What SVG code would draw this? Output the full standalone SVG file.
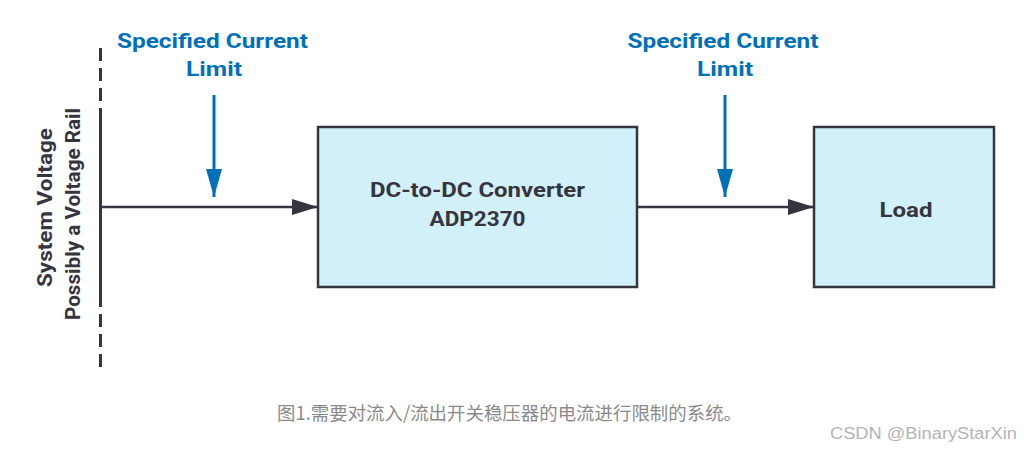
<svg xmlns="http://www.w3.org/2000/svg" width="1024" height="454" viewBox="0 0 1024 454">
<defs>
<style>
.box{fill:#d1f0fa;stroke:#36343f;stroke-width:2.5}
.lbl{font-family:Roboto,"Liberation Sans",sans-serif;font-weight:bold;font-size:20px;fill:#36343f;text-anchor:middle}
.blue{font-family:Roboto,"Liberation Sans",sans-serif;font-weight:bold;font-size:21px;fill:#0070b9;text-anchor:middle}
.wire{stroke:#36343f;stroke-width:2.5;fill:none}
.barrow{stroke:#0070b9;stroke-width:3;fill:none}
.dash{stroke:#36343f;stroke-width:3;stroke-dasharray:13,7}
</style>
<marker id="ah" viewBox="0 0 26 16" refX="26" refY="8" markerWidth="26" markerHeight="16" markerUnits="userSpaceOnUse" orient="auto">
<path d="M0,0 L26,8 L0,16 Z" fill="#36343f"/>
</marker>
<marker id="bh" viewBox="0 0 28 16" refX="28" refY="8" markerWidth="28" markerHeight="16" markerUnits="userSpaceOnUse" orient="auto">
<path d="M0,0 L28,8 L0,16 Z" fill="#0070b9"/>
</marker>
</defs>
<rect width="1024" height="454" fill="#ffffff"/>
<g id="rail">
<line class="dash" x1="100.5" y1="48" x2="100.5" y2="101"/>
<line x1="100.5" y1="108" x2="100.5" y2="307" stroke="#36343f" stroke-width="3"/>
<line class="dash" x1="100.5" y1="314" x2="100.5" y2="367"/>
<text class="lbl" transform="translate(52,207.5) rotate(-90)" textLength="159" lengthAdjust="spacingAndGlyphs">System Voltage</text>
<text class="lbl" transform="translate(80,214) rotate(-90)" textLength="212" lengthAdjust="spacingAndGlyphs">Possibly a Voltage Rail</text>
</g>
<g id="connectors">
<line class="wire" x1="100" y1="207" x2="318" y2="207" marker-end="url(#ah)"/>
<line class="wire" x1="637" y1="207" x2="814" y2="207" marker-end="url(#ah)"/>
<line class="barrow" x1="214" y1="95" x2="214" y2="197" marker-end="url(#bh)"/>
<line class="barrow" x1="725" y1="95" x2="725" y2="197" marker-end="url(#bh)"/>
</g>
<g id="limit1">
<text class="blue" x="212.5" y="48" textLength="191" lengthAdjust="spacingAndGlyphs">Specified Current</text>
<text class="blue" x="214" y="76" textLength="56" lengthAdjust="spacingAndGlyphs">Limit</text>
</g>
<g id="limit2">
<text class="blue" x="723" y="48" textLength="191" lengthAdjust="spacingAndGlyphs">Specified Current</text>
<text class="blue" x="725" y="76" textLength="56" lengthAdjust="spacingAndGlyphs">Limit</text>
</g>
<g id="converter">
<rect class="box" x="318" y="127" width="319" height="160"/>
<text class="lbl" x="477.5" y="197" textLength="215" lengthAdjust="spacingAndGlyphs">DC-to-DC Converter</text>
<text class="lbl" x="477.5" y="226" textLength="96" lengthAdjust="spacingAndGlyphs">ADP2370</text>
</g>
<g id="load">
<rect class="box" x="814" y="127" width="180" height="160"/>
<text class="lbl" x="906" y="217" textLength="53" lengthAdjust="spacingAndGlyphs">Load</text>
</g>
<text x="277" y="420" font-family="'Noto Sans CJK SC',sans-serif" font-size="18.5" fill="#8a8a8a" textLength="465" lengthAdjust="spacingAndGlyphs">图1.需要对流入/流出开关稳压器的电流进行限制的系统。</text>
<text x="830" y="439" font-family="'Liberation Sans',sans-serif" font-size="16" fill="#b4b4b4" textLength="187" lengthAdjust="spacingAndGlyphs">CSDN @BinaryStarXin</text>
</svg>
